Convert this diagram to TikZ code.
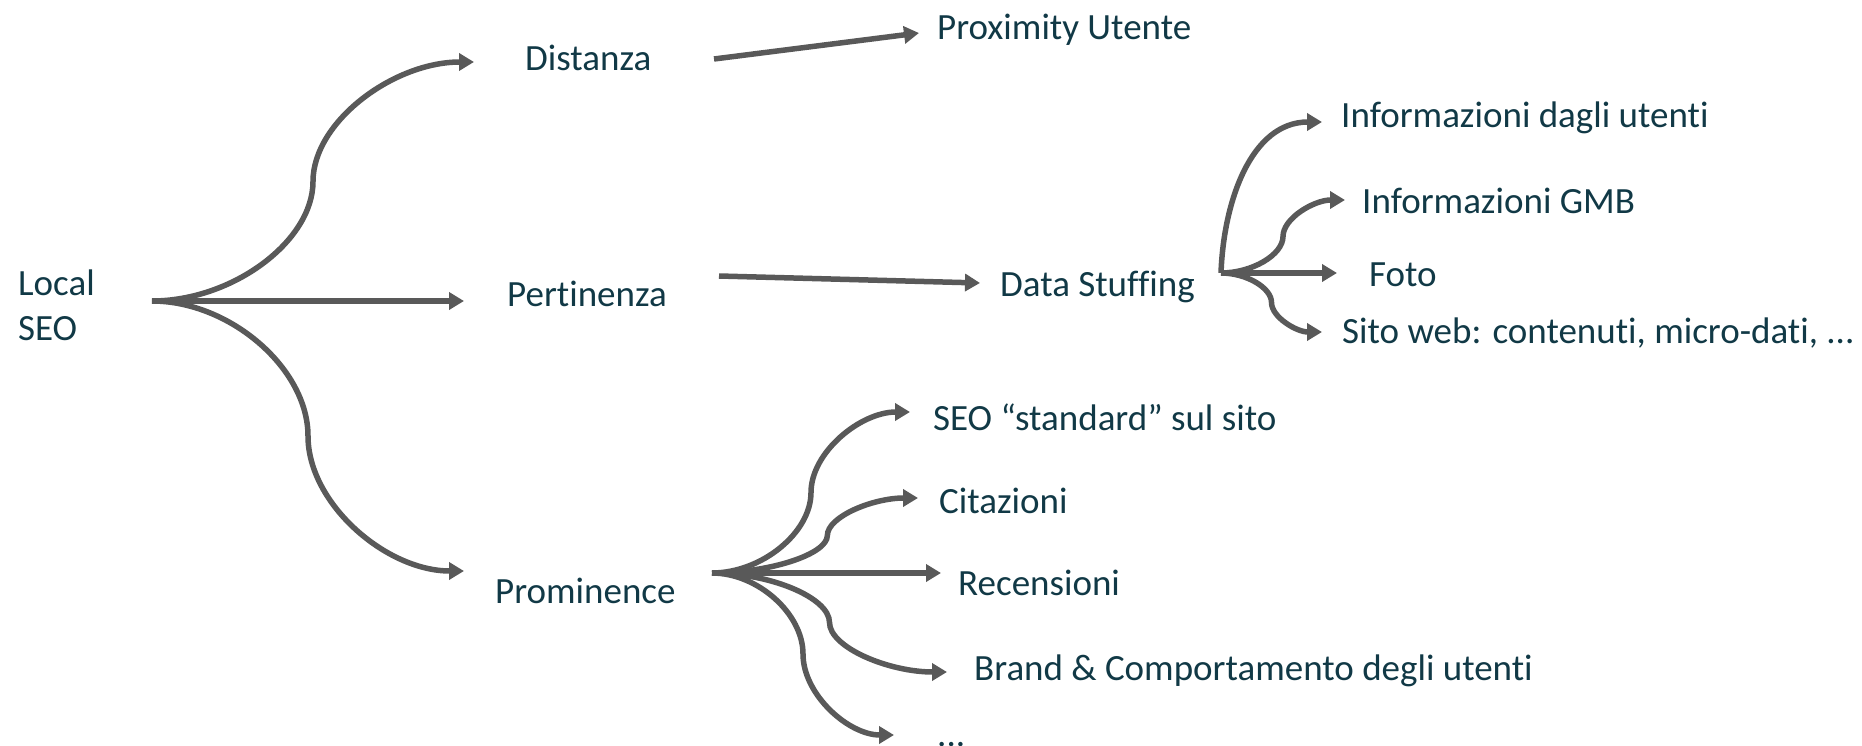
\documentclass[tikz,border=0pt]{standalone}
\usepackage{fontspec}
\setmainfont{Carlito}[Ligatures=NoCommon]
\usetikzlibrary{arrows.meta, calc}
\definecolor{arrgray}{HTML}{595959}
\definecolor{txtteal}{HTML}{113946}

\begin{document}
\begin{tikzpicture}[
  x=1pt, y=-1pt,
  lbl/.style  = {anchor=base west, inner sep=0pt, text=txtteal,
                 font=\fontsize{37}{45}\selectfont},
  arr/.style  = {-{Triangle[length=15pt, width=17pt]}, line width=5.5pt,
                 draw=arrgray},
  curv/.style = {to path={let \p1=(\tikztostart), \p2=(\tikztotarget),
                   \p3=($(\p1)!#1!(\p2)$), \p4=($(\p1)!0.5!(\p3)$),
                   \p5=($(\p3)!0.5!(\p2)$) in
                   .. controls (\x4,\y1) and (\x3,{0.75*\y1+0.25*\y2})
                   .. (\x3,{0.5*\y1+0.5*\y2})
                   .. controls (\x3,{0.25*\y1+0.75*\y2}) and (\x5,\y2)
                   .. (\p2) \tikztonodes}},
  curv/.default = 0.5
]
\useasboundingbox (0,0) rectangle (1862,746);
% labels
\node[lbl, align=left] (root) at (18,340) {Local\\SEO};
\node[lbl] (dist)  at (525,71)   {Distanza};
\node[lbl] (pert)  at (507,306)  {Pertinenza};
\node[lbl] (prom)  at (495,603)  {Prominence};
\node[lbl] (prox)  at (937,40)   {Proximity Utente};
\node[lbl] (ds)    at (1000,296) {Data Stuffing};
\node[lbl] (info)  at (1341,128) {Informazioni dagli utenti};
\node[lbl] (gmb)   at (1362,213) {Informazioni GMB};
\node[lbl] (foto)  at (1369,286) {Foto};
\node[lbl] (sito)  at (1342,343) {Sito web: contenuti, micro-dati, ...};
\node[lbl] (seo)   at (933,430)  {SEO “standard” sul sito};
\node[lbl] (cit)   at (939,513)  {Citazioni};
\node[lbl] (rec)   at (958,595)  {Recensioni};
\node[lbl] (brand) at (974,680)  {Brand \& Comportamento degli utenti};
\node[lbl] (more)  at (937,746)  {...};
% connector ends
\coordinate (root-o)  at (152,301);
\coordinate (dist-i)  at (474,62);
\coordinate (pert-i)  at (464,301);
\coordinate (prom-i)  at (464,571);
\coordinate (dist-o)  at (714,59);
\coordinate (prox-i)  at (919,33);
\coordinate (pert-o)  at (719,276);
\coordinate (ds-i)    at (980,283);
\coordinate (ds-o)    at (1221,273);
\coordinate (info-i)  at (1322,122);
\coordinate (gmb-i)   at (1345,200);
\coordinate (foto-i)  at (1337,273);
\coordinate (sito-i)  at (1322,332);
\coordinate (prom-o)  at (712,573);
\coordinate (seo-i)   at (910,412);
\coordinate (cit-i)   at (918,498);
\coordinate (rec-i)   at (941,573);
\coordinate (brand-i) at (947,672);
\coordinate (more-i)  at (894,735);
% root fan
\draw[arr] (root-o) to[curv] (dist-i);
\draw[arr] (root-o) -- (pert-i);
\draw[arr] (root-o) to[curv] (prom-i);
% straight links
\draw[arr] (dist-o) -- (prox-i);
\draw[arr] (pert-o) -- (ds-i);
% data stuffing fan
\draw[arr] (ds-o) to[out=88, in=180] (info-i);
\draw[arr] (ds-o) to[curv] (gmb-i);
\draw[arr] (ds-o) -- (foto-i);
\draw[arr] (ds-o) to[curv] (sito-i);
% prominence fan
\draw[arr] (prom-o) to[curv] (seo-i);
\draw[arr] (prom-o) to[curv=0.56] (cit-i);
\draw[arr] (prom-o) -- (rec-i);
\draw[arr] (prom-o) to[curv] (brand-i);
\draw[arr] (prom-o) to[curv] (more-i);
\end{tikzpicture}
\end{document}
